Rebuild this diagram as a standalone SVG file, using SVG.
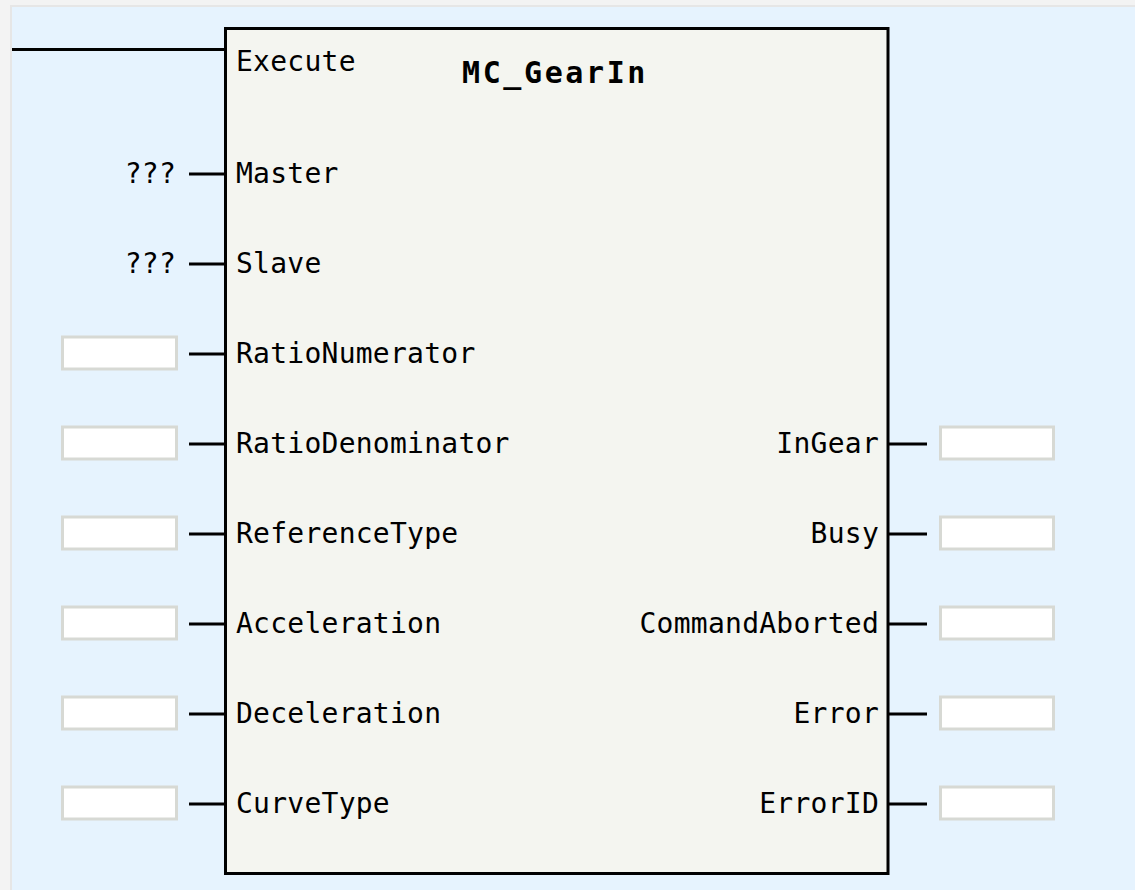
<svg xmlns="http://www.w3.org/2000/svg" width="1135" height="890" viewBox="0 0 1135 890">
<style>
.t{font-family:"DejaVu Sans Mono","Liberation Mono",monospace;font-size:28px;letter-spacing:0.25px;fill:#000}
.r{text-anchor:end}
.title{font-family:"DejaVu Sans Mono","Liberation Mono",monospace;font-size:30px;font-weight:bold;letter-spacing:2.6px;fill:#000}
.pin{stroke:#000;stroke-width:3;fill:none}
.box{fill:#fff;stroke:#d7d9d4;stroke-width:3}
</style>
<rect x="0" y="0" width="1135" height="890" fill="#f3f3f3"/>
<line x1="10" y1="6" x2="1135" y2="6" stroke="#e6e6e6" stroke-width="2"/>
<line x1="11" y1="6" x2="11" y2="890" stroke="#e6e6e6" stroke-width="2"/>
<rect x="12" y="7" width="1123" height="883" fill="#e6f3fe"/>

<g id="connectors">
<line class="pin" x1="12" y1="49.5" x2="225" y2="49.5"/>
<line class="pin" x1="189" y1="174" x2="225" y2="174"/>
<line class="pin" x1="189" y1="264" x2="225" y2="264"/>
<line class="pin" x1="189" y1="354" x2="225" y2="354"/>
<line class="pin" x1="189" y1="444" x2="225" y2="444"/>
<line class="pin" x1="189" y1="534" x2="225" y2="534"/>
<line class="pin" x1="189" y1="624" x2="225" y2="624"/>
<line class="pin" x1="189" y1="714" x2="225" y2="714"/>
<line class="pin" x1="189" y1="804" x2="225" y2="804"/>
<line class="pin" x1="888" y1="444" x2="927" y2="444"/>
<line class="pin" x1="888" y1="534" x2="927" y2="534"/>
<line class="pin" x1="888" y1="624" x2="927" y2="624"/>
<line class="pin" x1="888" y1="714" x2="927" y2="714"/>
<line class="pin" x1="888" y1="804" x2="927" y2="804"/>
</g>

<g id="block">
<rect x="225.5" y="28.5" width="662.5" height="845" fill="#f4f5f0" stroke="#000" stroke-width="3"/>
<text class="title" x="462" y="83">MC_GearIn</text>
<text class="t" x="236" y="71">Execute</text>
<text class="t" x="236" y="183">Master</text>
<text class="t" x="236" y="273">Slave</text>
<text class="t" x="236" y="363">RatioNumerator</text>
<text class="t" x="236" y="453">RatioDenominator</text>
<text class="t" x="236" y="543">ReferenceType</text>
<text class="t" x="236" y="633">Acceleration</text>
<text class="t" x="236" y="723">Deceleration</text>
<text class="t" x="236" y="813">CurveType</text>
<text class="t r" x="879" y="453">InGear</text>
<text class="t r" x="879" y="543">Busy</text>
<text class="t r" x="879" y="633">CommandAborted</text>
<text class="t r" x="879" y="723">Error</text>
<text class="t r" x="879" y="813">ErrorID</text>
</g>

<g id="in-master"><text class="t r" x="176" y="183">???</text></g>
<g id="in-slave"><text class="t r" x="176" y="273">???</text></g>
<g id="in-rationumerator"><rect class="box" x="62.5" y="337" width="114" height="32"/></g>
<g id="in-ratiodenominator"><rect class="box" x="62.5" y="427" width="114" height="32"/></g>
<g id="in-referencetype"><rect class="box" x="62.5" y="517" width="114" height="32"/></g>
<g id="in-acceleration"><rect class="box" x="62.5" y="607" width="114" height="32"/></g>
<g id="in-deceleration"><rect class="box" x="62.5" y="697" width="114" height="32"/></g>
<g id="in-curvetype"><rect class="box" x="62.5" y="787" width="114" height="32"/></g>
<g id="out-ingear"><rect class="box" x="940.5" y="427" width="113" height="32"/></g>
<g id="out-busy"><rect class="box" x="940.5" y="517" width="113" height="32"/></g>
<g id="out-commandaborted"><rect class="box" x="940.5" y="607" width="113" height="32"/></g>
<g id="out-error"><rect class="box" x="940.5" y="697" width="113" height="32"/></g>
<g id="out-errorid"><rect class="box" x="940.5" y="787" width="113" height="32"/></g>
</svg>
